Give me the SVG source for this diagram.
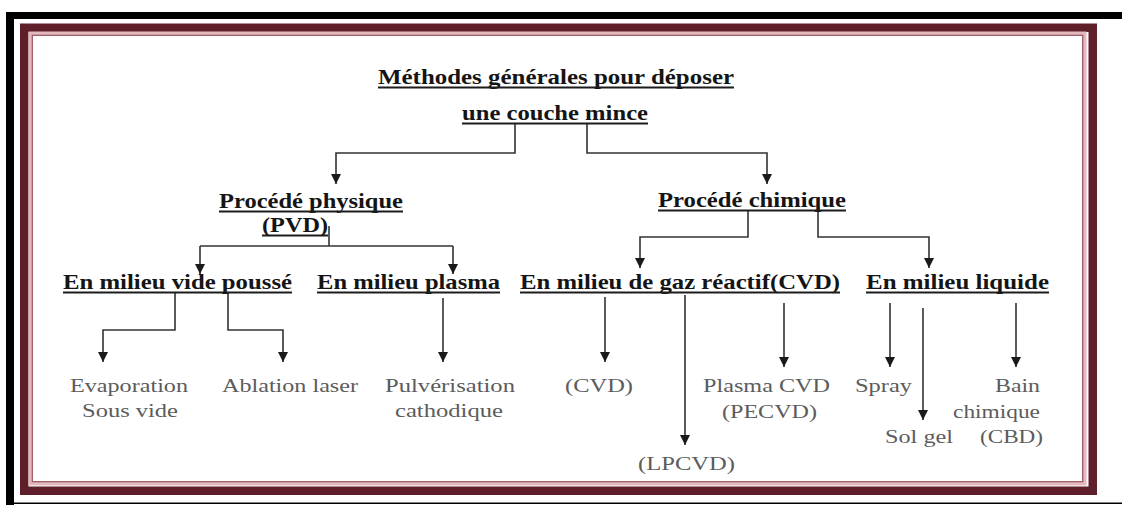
<svg xmlns="http://www.w3.org/2000/svg" width="1122" height="505" viewBox="0 0 1122 505">
  <style>
    .h { font-weight: bold; font-size: 21px; fill: #151515; }
    .t { font-size: 19px; fill: #5c5c5c; }
    .ul { stroke: #1c1c1c; stroke-width: 2; fill: none; }
    .c { stroke: #333; stroke-width: 1.6; fill: none; }
    .a { marker-end: url(#tri); }
  </style>
  <defs>
    <marker id="tri" viewBox="0 0 10 10" refX="10" refY="5" markerWidth="10" markerHeight="10" markerUnits="userSpaceOnUse" orient="auto">
      <path d="M0,0 L10,5 L0,10 z" fill="#1a1a1a"/>
    </marker>
  </defs>

  <rect width="1122" height="505" fill="#ffffff"/>

  <!-- page frame -->
  <g id="frame">
    <rect x="6" y="12" width="1116" height="7" fill="#000"/>
    <rect x="6" y="12" width="8" height="493" fill="#000"/>
    <rect x="14" y="502.5" width="1108" height="1.5" fill="#000"/>
    <rect x="24.25" y="27.75" width="1068.5" height="463" fill="none" stroke="#5e1f2a" stroke-width="8.5"/>
    <rect x="30" y="33" width="1055" height="451" fill="none" stroke="#e3b9bd" stroke-width="3"/>
    <rect x="32.25" y="35.25" width="1050.5" height="446.5" fill="none" stroke="#a0606a" stroke-width="1.5"/>
  </g>

  <!-- connectors -->
  <g id="connectors">
    <polyline class="c a" points="515,124 515,153 336,153 336,184"/>
    <polyline class="c a" points="587,124 587,153 767,153 767,184"/>
    <polyline class="c" points="329,226 329,246"/>
    <polyline class="c" points="200,246 453,246"/>
    <line class="c a" x1="200" y1="246" x2="200" y2="274"/>
    <line class="c a" x1="453" y1="246" x2="453" y2="274"/>
    <polyline class="c a" points="748,211 748,237 640,237 640,268"/>
    <polyline class="c a" points="818,211 818,237 929,237 929,268"/>
    <polyline class="c a" points="175,293 175,330 103,330 103,362"/>
    <polyline class="c a" points="228,293 228,330 283,330 283,362"/>
    <line class="c a" x1="443" y1="298" x2="443" y2="362"/>
    <line class="c a" x1="605" y1="297" x2="605" y2="362"/>
    <line class="c a" x1="685" y1="295" x2="685" y2="445"/>
    <line class="c a" x1="784" y1="303" x2="784" y2="367"/>
    <line class="c a" x1="890" y1="303" x2="890" y2="367"/>
    <line class="c a" x1="923" y1="308" x2="923" y2="420"/>
    <line class="c a" x1="1016" y1="303" x2="1016" y2="367"/>
  </g>

  <g font-family="'Liberation Serif', 'DejaVu Serif', serif">
  <g id="root">
    <text class="h" x="378" y="84" textLength="356" lengthAdjust="spacingAndGlyphs">Méthodes générales pour déposer</text>
    <line class="ul" x1="378" y1="87.5" x2="734" y2="87.5"/>
    <text class="h" x="462" y="120" textLength="186" lengthAdjust="spacingAndGlyphs">une couche mince</text>
    <line class="ul" x1="462" y1="123.5" x2="648" y2="123.5"/>
  </g>

  <g id="physique">
    <text class="h" x="219" y="208" textLength="184" lengthAdjust="spacingAndGlyphs">Procédé physique</text>
    <line class="ul" x1="219" y1="211.5" x2="403" y2="211.5"/>
    <text class="h" x="262" y="232" textLength="66" lengthAdjust="spacingAndGlyphs">(PVD)</text>
    <line class="ul" x1="262" y1="235.5" x2="328" y2="235.5"/>
  </g>

  <g id="chimique">
    <text class="h" x="658" y="207" textLength="188" lengthAdjust="spacingAndGlyphs">Procédé chimique</text>
    <line class="ul" x1="658" y1="210.5" x2="846" y2="210.5"/>
  </g>

  <g id="vide">
    <text class="h" x="63" y="289" textLength="229" lengthAdjust="spacingAndGlyphs">En milieu vide poussé</text>
    <line class="ul" x1="63" y1="292.5" x2="292" y2="292.5"/>
  </g>
  <g id="plasma">
    <text class="h" x="317" y="289" textLength="183" lengthAdjust="spacingAndGlyphs">En milieu plasma</text>
    <line class="ul" x1="317" y1="292.5" x2="500" y2="292.5"/>
  </g>
  <g id="gaz">
    <text class="h" x="520" y="289" textLength="320" lengthAdjust="spacingAndGlyphs">En milieu de gaz réactif(CVD)</text>
    <line class="ul" x1="520" y1="292.5" x2="840" y2="292.5"/>
  </g>
  <g id="liquide">
    <text class="h" x="866" y="289" textLength="183" lengthAdjust="spacingAndGlyphs">En milieu liquide</text>
    <line class="ul" x1="866" y1="292.5" x2="1049" y2="292.5"/>
  </g>

  <g id="evaporation">
    <text class="t" x="70" y="392" textLength="118" lengthAdjust="spacingAndGlyphs">Evaporation</text>
    <text class="t" x="82" y="417" textLength="96" lengthAdjust="spacingAndGlyphs">Sous vide</text>
  </g>
  <g id="ablation">
    <text class="t" x="222" y="392" textLength="136" lengthAdjust="spacingAndGlyphs">Ablation laser</text>
  </g>
  <g id="pulverisation">
    <text class="t" x="385" y="392" textLength="130" lengthAdjust="spacingAndGlyphs">Pulvérisation</text>
    <text class="t" x="395" y="417" textLength="108" lengthAdjust="spacingAndGlyphs">cathodique</text>
  </g>
  <g id="cvd">
    <text class="t" x="565" y="392" textLength="68" lengthAdjust="spacingAndGlyphs">(CVD)</text>
  </g>
  <g id="lpcvd">
    <text class="t" x="638" y="470" textLength="97" lengthAdjust="spacingAndGlyphs">(LPCVD)</text>
  </g>
  <g id="pecvd">
    <text class="t" x="703" y="392" textLength="127" lengthAdjust="spacingAndGlyphs">Plasma CVD</text>
    <text class="t" x="722" y="418" textLength="95" lengthAdjust="spacingAndGlyphs">(PECVD)</text>
  </g>
  <g id="spray">
    <text class="t" x="855" y="392" textLength="57" lengthAdjust="spacingAndGlyphs">Spray</text>
  </g>
  <g id="solgel">
    <text class="t" x="885" y="443" textLength="68" lengthAdjust="spacingAndGlyphs">Sol gel</text>
  </g>
  <g id="cbd">
    <text class="t" x="995" y="392" textLength="45" lengthAdjust="spacingAndGlyphs">Bain</text>
    <text class="t" x="953" y="418" textLength="87" lengthAdjust="spacingAndGlyphs">chimique</text>
    <text class="t" x="980" y="443" textLength="63" lengthAdjust="spacingAndGlyphs">(CBD)</text>
  </g>
  </g>
</svg>
